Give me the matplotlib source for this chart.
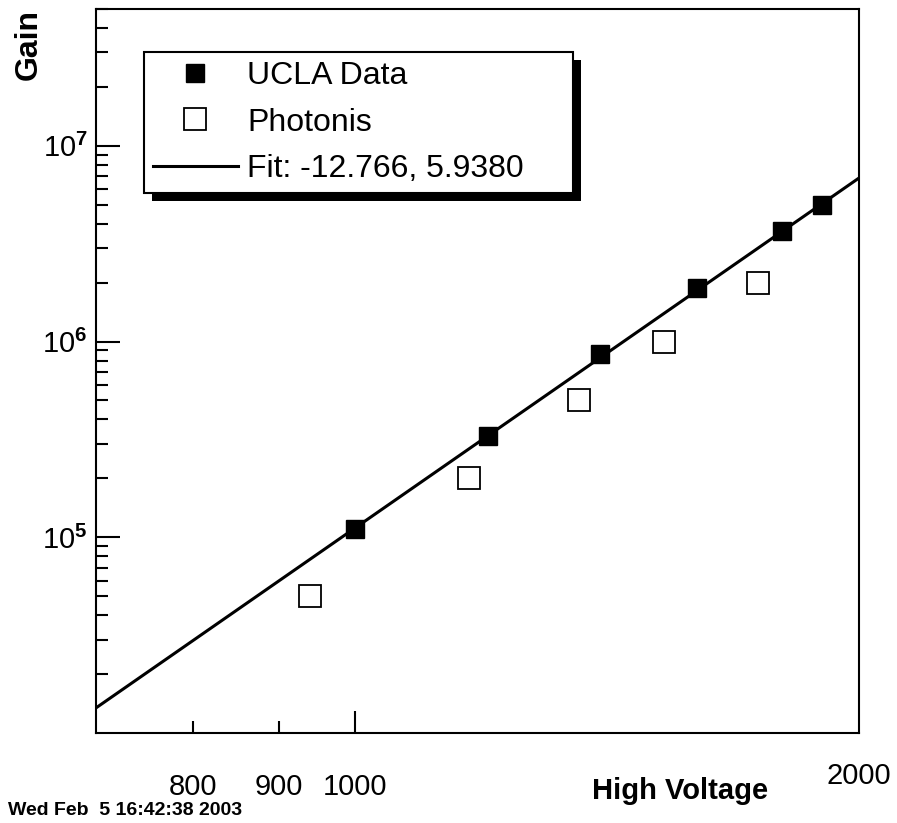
import matplotlib
matplotlib.use("Agg")
import matplotlib.pyplot as plt
import matplotlib.ticker as mticker
import matplotlib.transforms as mtransforms
from matplotlib.patches import Rectangle
import numpy as np

plt.rcParams['font.family'] = ['Liberation Sans', 'DejaVu Sans']
plt.rcParams['mathtext.fontset'] = 'custom'
plt.rcParams['mathtext.rm'] = 'Liberation Sans'
plt.rcParams['mathtext.bf'] = 'Liberation Sans:bold'

# Datos
hv_ucla = [1000, 1200, 1400, 1600, 1800, 1900]
gain_ucla = [1.1e5, 3.3e5, 8.6e5, 1.88e6, 3.67e6, 5.0e6]

hv_photonis = [940, 1170, 1360, 1530, 1740]
gain_photonis = [5e4, 2e5, 5e5, 1e6, 2e6]

# Ajuste: log10(G) = p0 + p1 * log10(HV)
p0 = -12.766
p1 = 5.9380
fit_hv = np.array([700, 2000])
fit_gain = 10 ** (p0 + p1 * np.log10(fit_hv))

fig = plt.figure(figsize=(8.97, 8.23), dpi=100)
ax = fig.add_axes([96 / 897, 90 / 823, 763 / 897, 724 / 823])

ax.plot(fit_hv, fit_gain, color='black', linewidth=2.2,
        label=f'Fit: {p0:.3f}, {p1:.4f}', zorder=2)
ax.plot(hv_ucla, gain_ucla, linestyle='none', marker='s', markersize=13.5,
        color='black', label='UCLA Data', zorder=3)
ax.plot(hv_photonis, gain_photonis, linestyle='none', marker='s', markersize=16,
        markerfacecolor='white', markeredgecolor='black', markeredgewidth=1.3,
        label='Photonis', zorder=3)

ax.set_xscale('log')
ax.set_yscale('log')
ax.set_xlim(700, 2000)
ax.set_ylim(1e4, 5e7)

# Ejes y marcas
for s in ax.spines.values():
    s.set_linewidth(1.5)

ax.xaxis.set_major_locator(mticker.FixedLocator([1000]))
ax.xaxis.set_minor_locator(mticker.FixedLocator([800, 900]))
ax.xaxis.set_major_formatter(mticker.FixedFormatter(['1000']))
ax.xaxis.set_minor_formatter(mticker.FixedFormatter(['800', '900']))

ax.yaxis.set_major_locator(mticker.FixedLocator([1e5, 1e6, 1e7]))
ax.yaxis.set_minor_locator(mticker.LogLocator(base=10, subs=range(2, 10)))
ax.yaxis.set_major_formatter(mticker.FuncFormatter(
    lambda v, pos: r'$\mathrm{10}^{\mathbf{%d}}$' % round(np.log10(v))))
ax.yaxis.set_minor_formatter(mticker.NullFormatter())

ax.tick_params(axis='both', which='both', direction='in', width=1.5,
               top=False, right=False, labelsize=21)
ax.tick_params(axis='y', which='major', length=17, pad=6)
ax.tick_params(axis='y', which='minor', length=8.6)
ax.tick_params(axis='x', which='major', length=16, pad=29)
ax.tick_params(axis='x', which='minor', length=8.6, pad=29)

# Etiqueta 2000 en el borde derecho
trans = mtransforms.blended_transform_factory(ax.transData, ax.transAxes)
ax.text(2000, -0.060, '2000', transform=trans, ha='center', va='center', fontsize=21)

fig.text(680 / 897, 1 - 791 / 823, 'High Voltage', ha='center', va='center',
         fontsize=21, fontweight='bold')
fig.text(29 / 897, 1 - 45 / 823, 'Gain', rotation=90, ha='center', va='center',
         fontsize=23, fontweight='bold')
fig.text(8 / 897, 1 - 815 / 823, 'Wed Feb  5 16:42:38 2003', ha='left', va='baseline',
         fontsize=14, fontweight='bold')

# Leyenda con sombra negra
handles, labels = ax.get_legend_handles_labels()
order = [1, 2, 0]
leg = ax.legend([handles[i] for i in order], [labels[i] for i in order],
                loc='upper left', bbox_to_anchor=(0.0629, 0.9406, 0.562, 0.0),
                mode='expand', fontsize=23, frameon=True, fancybox=False,
                framealpha=1, edgecolor='black', borderaxespad=0,
                borderpad=0.28, labelspacing=0.52, handlelength=2.65,
                handletextpad=0.3)
leg.get_frame().set_linewidth(1.5)

fig.canvas.draw()
bb = leg.get_window_extent().transformed(ax.transAxes.inverted())
dx = 8 / 763
dy = 8 / 724
shadow = Rectangle((bb.x0 + dx, bb.y0 - dy), bb.width, bb.height,
                   transform=ax.transAxes, facecolor='black', edgecolor='none',
                   clip_on=False, zorder=4.9)
ax.add_patch(shadow)

fig.savefig('out.png', dpi=100)
